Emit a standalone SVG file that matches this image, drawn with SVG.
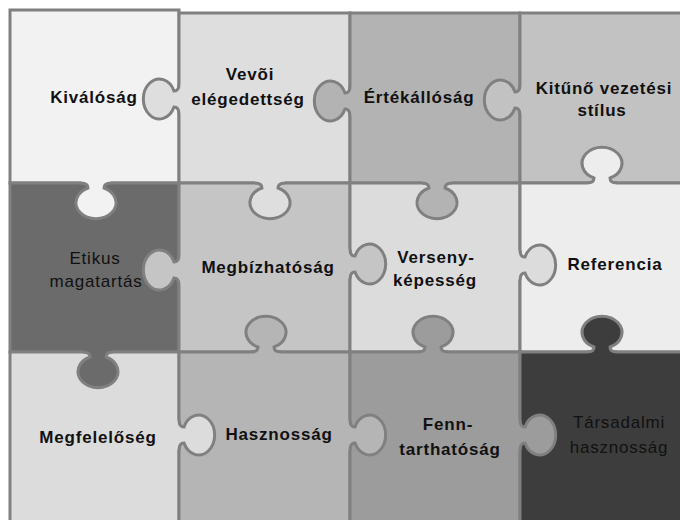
<svg xmlns="http://www.w3.org/2000/svg" xmlns:xlink="http://www.w3.org/1999/xlink" width="680" height="520" viewBox="0 0 680 520">
<style>
.tile{stroke:#808080;stroke-width:3}
.ks{fill:none;stroke:#808080;stroke-width:3}
.t{font-family:"Liberation Sans",Arial,sans-serif;font-size:17px;font-weight:bold;letter-spacing:0.8px;text-anchor:middle;fill:#111}
.n{font-weight:normal}
</style>
<defs>
<path id="kf" d="M-15,4 L-15,0 Q-8,0 -8,-5 A20 16 0 1 1 8,-5 Q8,0 15,0 L15,4 Z"/>
<path id="ks" d="M-15,0 Q-8,0 -8,-5 A20 16 0 1 1 8,-5 Q8,0 15,0"/>
</defs>
<rect width="680" height="520" fill="#ffffff"/>
<g id="kivalosag"><rect class="tile" x="10" y="10" width="169" height="173" fill="#f2f2f2"/><text class="t" x="94" y="103">Kiválóság</text></g>
<g id="vevoi"><rect class="tile" x="179" y="13" width="171" height="170" fill="#dedede"/><text class="t" x="250" y="80">Vevõi</text><text class="t" x="248" y="105">elégedettség</text></g>
<g id="ertekallosag"><rect class="tile" x="350" y="13" width="170" height="170" fill="#b3b3b3"/><text class="t" x="419" y="103">Értékállóság</text></g>
<g id="kituno"><rect class="tile" x="520" y="13" width="170" height="170" fill="#c2c2c2"/><text class="t" x="604" y="94">Kitűnő vezetési</text><text class="t" x="602" y="116">stílus</text></g>
<g id="etikus"><rect class="tile" x="10" y="183" width="169" height="169" fill="#6b6b6b"/><text class="t n" x="95" y="264">Etikus</text><text class="t n" x="96" y="287">magatartás</text></g>
<g id="megbizhatosag"><rect class="tile" x="179" y="183" width="171" height="169" fill="#c5c5c5"/><text class="t" x="268" y="273">Megbízhatóság</text></g>
<g id="versenykepesseg"><rect class="tile" x="350" y="183" width="170" height="169" fill="#dcdcdc"/><text class="t" x="436" y="263">Verseny-</text><text class="t" x="435" y="286">képesség</text></g>
<g id="referencia"><rect class="tile" x="520" y="183" width="170" height="169" fill="#ededed"/><text class="t" x="615" y="270">Referencia</text></g>
<g id="megfeleloseg"><rect class="tile" x="10" y="352" width="169" height="180" fill="#dcdcdc"/><text class="t" x="98" y="443">Megfelelőség</text></g>
<g id="hasznossag"><rect class="tile" x="179" y="352" width="171" height="180" fill="#b5b5b5"/><text class="t" x="279" y="440">Hasznosság</text></g>
<g id="fenntarthatosag"><rect class="tile" x="350" y="352" width="170" height="180" fill="#9c9c9c"/><text class="t" x="448" y="430">Fenn-</text><text class="t" x="450" y="455">tarthatóság</text></g>
<g id="tarsadalmi"><rect class="tile" x="520" y="352" width="170" height="180" fill="#3d3d3d"/><text class="t n" x="619" y="428">Társadalmi</text><text class="t n" x="619" y="453">hasznosság</text></g>
<g id="knobs">
<g transform="translate(96,183) rotate(180)" fill="#f2f2f2"><use xlink:href="#kf"/><use xlink:href="#ks" class="ks"/></g>
<g transform="translate(270,183) rotate(180)" fill="#dedede"><use xlink:href="#kf"/><use xlink:href="#ks" class="ks"/></g>
<g transform="translate(437,183) rotate(180)" fill="#b3b3b3"><use xlink:href="#kf"/><use xlink:href="#ks" class="ks"/></g>
<g transform="translate(602,183)" fill="#ededed"><use xlink:href="#kf"/><use xlink:href="#ks" class="ks"/></g>
<g transform="translate(98,352) rotate(180)" fill="#6b6b6b"><use xlink:href="#kf"/><use xlink:href="#ks" class="ks"/></g>
<g transform="translate(266,352)" fill="#b5b5b5"><use xlink:href="#kf"/><use xlink:href="#ks" class="ks"/></g>
<g transform="translate(433,352)" fill="#9c9c9c"><use xlink:href="#kf"/><use xlink:href="#ks" class="ks"/></g>
<g transform="translate(602,352)" fill="#3d3d3d"><use xlink:href="#kf"/><use xlink:href="#ks" class="ks"/></g>
<g transform="translate(179,99) rotate(-90)" fill="#dedede"><use xlink:href="#kf"/><use xlink:href="#ks" class="ks"/></g>
<g transform="translate(179,270) rotate(-90)" fill="#c5c5c5"><use xlink:href="#kf"/><use xlink:href="#ks" class="ks"/></g>
<g transform="translate(179,435) rotate(90)" fill="#dcdcdc"><use xlink:href="#kf"/><use xlink:href="#ks" class="ks"/></g>
<g transform="translate(350,101) rotate(-90)" fill="#b3b3b3"><use xlink:href="#kf"/><use xlink:href="#ks" class="ks"/></g>
<g transform="translate(350,264) rotate(90)" fill="#c5c5c5"><use xlink:href="#kf"/><use xlink:href="#ks" class="ks"/></g>
<g transform="translate(350,435) rotate(90)" fill="#b5b5b5"><use xlink:href="#kf"/><use xlink:href="#ks" class="ks"/></g>
<g transform="translate(520,100) rotate(-90)" fill="#c2c2c2"><use xlink:href="#kf"/><use xlink:href="#ks" class="ks"/></g>
<g transform="translate(520,265) rotate(90)" fill="#dcdcdc"><use xlink:href="#kf"/><use xlink:href="#ks" class="ks"/></g>
<g transform="translate(520,435) rotate(90)" fill="#9c9c9c"><use xlink:href="#kf"/><use xlink:href="#ks" class="ks"/></g>
</g>
</svg>
